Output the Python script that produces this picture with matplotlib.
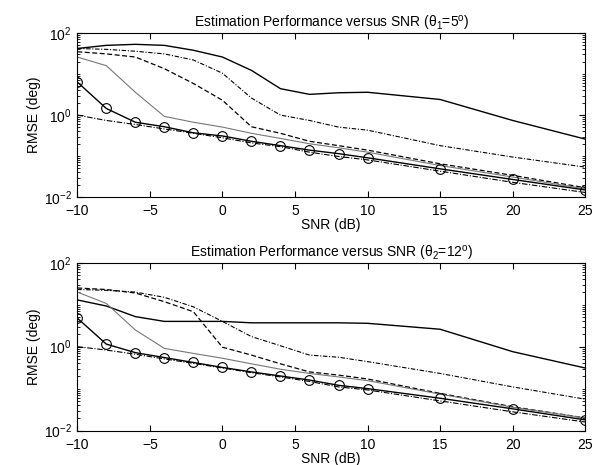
import numpy as np
import matplotlib
matplotlib.use('Agg')
import matplotlib.pyplot as plt
from matplotlib.ticker import LogLocator, FixedLocator, FuncFormatter

plt.rcParams['font.family'] = ['Liberation Sans', 'DejaVu Sans']
plt.rcParams['mathtext.fontset'] = 'custom'
plt.rcParams['mathtext.rm'] = 'Liberation Sans'
plt.rcParams['mathtext.it'] = 'Liberation Sans'

snr = [-10, -8, -6, -4, -2, 0, 2, 4, 6, 8, 10, 15, 20, 25]

# theta1 = 5 deg
t1_solid = [42, 50, 53, 50, 38, 26, 12.3, 4.4, 3.2, 3.5, 3.6, 2.4, 0.74, 0.26]
t1_dashdot = [42, 40, 36, 31, 22, 10.5, 2.6, 1.0, 0.74, 0.51, 0.43, 0.18, 0.095, 0.054]
t1_dashed = [35, 31, 26, 13.5, 5.9, 2.3, 0.52, 0.36, 0.23, 0.18, 0.14, 0.065, 0.034, 0.017]
t1_gray = [26, 16, 3.6, 0.93, 0.67, 0.51, 0.36, 0.27, 0.20, 0.16, 0.125, 0.059, 0.031, 0.016]
t1_circ = [6.4, 1.45, 0.67, 0.52, 0.37, 0.31, 0.23, 0.18, 0.14, 0.115, 0.091, 0.049, 0.027, 0.015]
t1_crb = [1.0, 0.74, 0.59, 0.46, 0.36, 0.28, 0.21, 0.17, 0.125, 0.098, 0.081, 0.043, 0.023, 0.013]

# theta2 = 12 deg
t2_solid = [13, 9.3, 5.2, 4.0, 4.0, 4.0, 3.7, 3.7, 3.7, 3.7, 3.6, 2.6, 0.76, 0.31]
t2_dashdot = [23, 22, 20, 15, 8.9, 4.0, 1.74, 1.05, 0.63, 0.56, 0.44, 0.23, 0.11, 0.056]
t2_dashed = [25, 23, 19, 11.8, 6.8, 0.97, 0.63, 0.39, 0.25, 0.21, 0.17, 0.077, 0.037, 0.020]
t2_gray = [20, 10.7, 2.5, 0.91, 0.69, 0.53, 0.39, 0.29, 0.23, 0.19, 0.155, 0.074, 0.036, 0.020]
t2_circ = [4.8, 1.15, 0.72, 0.55, 0.42, 0.32, 0.25, 0.20, 0.16, 0.12, 0.10, 0.059, 0.033, 0.018]
t2_crb = [1.0, 0.83, 0.66, 0.51, 0.40, 0.31, 0.24, 0.19, 0.148, 0.11, 0.093, 0.051, 0.028, 0.016]

titles = [r'Estimation Performance versus SNR ($\theta_1$=5$^{\rm o}$)',
          r'Estimation Performance versus SNR ($\theta_2$=12$^{\rm o}$)']

fig = plt.figure(figsize=(5.99, 4.65), dpi=100)
ax1 = fig.add_axes([0.129, 0.576, 0.848, 0.353])
ax2 = fig.add_axes([0.129, 0.074, 0.848, 0.361])

data = [(t1_solid, t1_dashdot, t1_dashed, t1_gray, t1_circ, t1_crb),
        (t2_solid, t2_dashdot, t2_dashed, t2_gray, t2_circ, t2_crb)]


def fmt(v, pos):
    e = int(round(np.log10(v)))
    return r'$10^{%d}$' % e


for ax, d, title in zip([ax1, ax2], data, titles):
    s, dd, da, g, c, crb = d
    ax.semilogy(snr, s, color='k', lw=1.0, ls='-')
    ax.semilogy(snr, dd, color='k', lw=0.8, ls=(0, (4, 1.5, 1, 1.5)))
    ax.semilogy(snr, da, color='k', lw=0.9, ls=(0, (4, 2)))
    ax.semilogy(snr, g, color='#777777', lw=0.8, ls='-')
    ax.semilogy(snr, c, color='k', lw=1.0, ls='-', marker='o', ms=7,
                mfc='none', mec='k', mew=0.8)
    ax.semilogy(snr, crb, color='k', lw=0.8, ls=(0, (5, 1.5, 1, 1.5)))
    ax.set_xlim(-10, 25)
    ax.set_ylim(1e-2, 1e2)
    ax.set_xticks([-10, -5, 0, 5, 10, 15, 20, 25])
    ax.yaxis.set_major_locator(FixedLocator([1e-2, 1e0, 1e2]))
    ax.yaxis.set_major_formatter(FuncFormatter(fmt))
    ax.yaxis.set_minor_locator(LogLocator(base=10, subs=np.arange(1, 10), numticks=20))
    ax.yaxis.set_minor_formatter(FuncFormatter(lambda v, p: ''))
    ax.tick_params(which='both', direction='in', top=True, right=True, labelsize=10)
    ax.tick_params(which='major', length=4)
    ax.tick_params(axis='x', pad=5)
    ax.tick_params(axis='y', pad=4)
    ax.tick_params(which='minor', length=2)
    ax.set_xlabel('SNR (dB)', fontsize=10, labelpad=0)
    ax.set_ylabel('RMSE (deg)', fontsize=10, labelpad=2)
    ax.set_title(title, fontsize=10, pad=4)
    for sp in ax.spines.values():
        sp.set_linewidth(0.8)

fig.savefig('out.png', dpi=100)
